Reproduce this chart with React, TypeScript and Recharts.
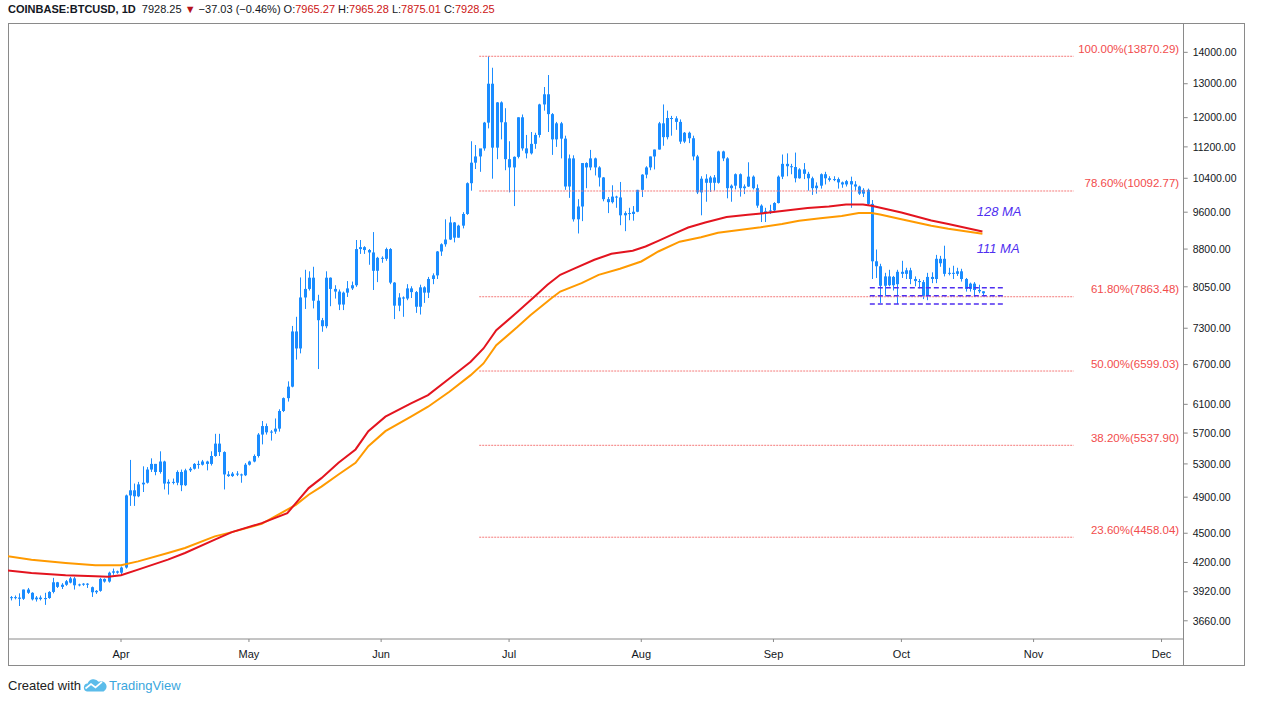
import React from 'react';
import { ComposedChart, Bar, Line, XAxis, YAxis, ReferenceLine, ReferenceDot } from 'recharts';

const FONT = '"Liberation Sans", Arial, sans-serif';
const BLUE = '#1a8cff';
const RED_MA = '#e3141f';
const ORANGE_MA = '#ff9a00';
const FIB_LINE = '#f47a7a';
const FIB_TEXT = '#f24c4c';
const PURPLE = '#4f2ff0';

// Day index: 0 = 1 Apr 2019. First candle = 6 Mar 2019.
const START_DAY = -26;

// [open, high, low, close]
const mar = [
  [3863, 3880, 3840, 3870], [3870, 3885, 3850, 3866], [3866, 3905, 3790, 3855], [3855, 3940, 3845, 3940],
  [3940, 3955, 3900, 3910], [3910, 3915, 3840, 3850], [3850, 3880, 3830, 3866], [3866, 3885, 3840, 3852],
  [3852, 3910, 3800, 3862], [3862, 3925, 3855, 3918], [3918, 4050, 3905, 4008], [4008, 4012, 3955, 3965],
  [3965, 4000, 3945, 3985], [3985, 4030, 3975, 4018], [4005, 4060, 3998, 4045], [4045, 4060, 3940, 3980],
  [3980, 3995, 3970, 3988], [3988, 4000, 3975, 3995], [3995, 4000, 3955, 3985], [3962, 3968, 3872, 3915],
  [3915, 3935, 3900, 3928], [3928, 4050, 3920, 4040], [4040, 4045, 4005, 4015], [4015, 4110, 4005, 4100],
  [4100, 4140, 4080, 4113], [4113, 4120, 4090, 4100],
];
const apr = [
  [4100, 4160, 4085, 4150], [4150, 4930, 4140, 4920], [4920, 5350, 4800, 4980], [4980, 5060, 4800, 4910],
  [4910, 5080, 4900, 5050], [5050, 5270, 4960, 5070], [5070, 5260, 5060, 5230], [5230, 5370, 5200, 5300],
  [5300, 5300, 5160, 5200], [5200, 5460, 5180, 5330], [5330, 5340, 4990, 5060], [5060, 5110, 4930, 5080],
  [5080, 5120, 5050, 5070], [5070, 5220, 5040, 5200], [5200, 5230, 4970, 5040], [5040, 5240, 5030, 5220],
  [5220, 5260, 5200, 5240], [5240, 5310, 5230, 5300], [5300, 5340, 5240, 5290], [5290, 5350, 5280, 5330],
  [5330, 5340, 5220, 5300], [5300, 5460, 5280, 5400], [5400, 5690, 5390, 5560], [5560, 5690, 5400, 5450],
  [5450, 5460, 4990, 5170], [5170, 5210, 5140, 5150], [5150, 5200, 5140, 5180], [5180, 5210, 5150, 5170],
  [5170, 5180, 5070, 5160], [5160, 5310, 5150, 5290],
];
const may = [
  [5290, 5340, 5280, 5330], [5330, 5420, 5320, 5400], [5400, 5700, 5380, 5680], [5680, 5865, 5550, 5795],
  [5795, 5830, 5680, 5710], [5710, 5740, 5600, 5720], [5720, 5900, 5690, 5760], [5760, 6030, 5720, 6005],
  [6005, 6200, 5990, 6190], [6190, 6440, 6140, 6360], [6360, 7340, 6350, 7245], [7245, 7500, 6780, 6960],
  [6960, 8230, 6880, 7850], [7850, 8380, 7640, 8010], [8010, 8350, 7980, 8225], [8225, 8440, 7650, 7790],
  [7790, 7900, 6630, 7440], [7440, 7480, 7240, 7335], [7335, 8350, 7300, 8225], [8225, 8230, 7690, 8010],
  [8010, 8080, 7830, 7960], [7960, 8000, 7620, 7720], [7720, 7960, 7620, 7940], [7940, 8160, 7860, 8020],
  [8020, 8150, 7990, 8080], [8080, 8990, 8050, 8800], [8800, 8990, 8700, 8840], [8840, 8860, 8700, 8780],
  [8780, 8800, 8480, 8730], [8730, 9160, 7990, 8360], [8360, 8640, 8140, 8620],
];
const jun = [
  [8620, 8650, 8520, 8600], [8600, 8830, 8560, 8800], [8800, 8820, 8100, 8130], [8130, 8140, 7460, 7700],
  [7700, 7930, 7600, 7850], [7850, 7870, 7500, 7830], [7830, 8100, 7800, 8020], [8020, 8060, 7840, 7950],
  [7950, 7970, 7570, 7680], [7680, 8090, 7540, 8040], [8040, 8060, 7750, 7940], [7940, 8240, 7840, 8200],
  [8200, 8310, 8100, 8270], [8270, 8760, 8200, 8750], [8750, 8920, 8660, 8900], [8900, 9440, 8850, 9000],
  [9000, 9500, 8990, 9370], [9370, 9380, 8940, 9040], [9040, 9320, 9040, 9300], [9300, 9600, 9240, 9560],
  [9560, 10300, 9540, 10280], [10280, 11350, 10100, 10790], [10790, 11250, 10630, 10950], [10950, 11100, 10560, 11160],
  [11160, 11880, 11100, 11860], [11860, 13870, 11700, 13000], [13000, 13500, 10390, 11180], [11180, 12450, 10880, 12440],
  [12440, 12470, 11400, 11870], [11870, 12270, 10600, 10880],
];
const jul = [
  [10880, 11350, 10060, 10670], [10670, 10950, 9740, 10940], [10940, 12010, 10900, 12010], [12010, 12090, 11100, 11160],
  [11160, 11520, 10900, 11030], [11030, 11600, 11000, 11280], [11280, 11580, 11150, 11520], [11520, 12400, 11450, 12380],
  [12380, 12900, 12200, 12680], [12680, 13270, 11600, 12100], [12100, 12130, 10990, 11400], [11400, 11880, 11200, 11840],
  [11840, 11880, 10900, 11420], [11420, 11500, 10120, 10200], [10200, 11000, 9930, 10900], [10900, 10980, 9390, 9440],
  [9440, 9900, 9130, 9730], [9730, 10780, 9400, 10780], [10780, 10800, 10160, 10670], [10670, 11120, 10600, 10900],
  [10900, 10920, 10470, 10670], [10670, 10700, 10200, 10420], [10420, 10430, 9850, 9900], [9900, 9950, 9580, 9830],
  [9830, 10230, 9800, 9960], [9960, 9980, 9700, 9940], [9940, 10310, 9310, 9530], [9530, 9620, 9180, 9580],
  [9580, 9700, 9420, 9560], [9560, 9740, 9410, 9610], [9610, 10120, 9600, 10120],
];
const aug = [
  [10120, 10500, 9950, 10490], [10490, 10700, 10400, 10670], [10670, 10950, 10600, 10950], [10950, 11130, 10620, 11130],
  [11130, 11880, 11130, 11840], [11840, 12380, 11230, 11460], [11460, 12200, 11400, 11990], [11990, 12050, 11500, 11980],
  [11980, 12040, 11660, 11880], [11880, 11950, 11280, 11340], [11340, 11600, 11300, 11580], [11580, 11610, 11300, 11430],
  [11430, 11500, 10850, 10950], [10950, 10990, 10020, 10060], [10060, 10450, 9530, 10390], [10390, 10500, 9840, 10290],
  [10290, 10460, 10070, 10420], [10420, 10480, 10100, 10290], [10290, 11100, 10270, 11080], [11080, 11100, 10830, 10900],
  [10900, 10930, 9920, 10160], [10160, 10250, 9840, 10220], [10220, 10520, 10130, 10500], [10500, 10520, 9960, 10160],
  [10160, 10250, 10020, 10200], [10200, 10800, 10190, 10440], [10440, 10470, 10130, 10160], [10160, 10250, 9700, 9750],
  [9750, 9780, 9380, 9580], [9580, 9700, 9380, 9620], [9620, 9770, 9560, 9640],
];
const sep = [
  [9640, 9830, 9600, 9810], [9810, 10470, 9800, 10440], [10440, 11000, 10380, 10760], [10760, 11030, 10450, 10700],
  [10700, 10760, 10500, 10680], [10680, 11050, 10300, 10400], [10400, 10650, 10390, 10620], [10620, 10780, 10380, 10510],
  [10510, 10560, 10100, 10400], [10400, 10440, 10000, 10160], [10160, 10300, 10030, 10220], [10220, 10520, 10150, 10500],
  [10500, 10560, 10250, 10400], [10400, 10450, 10320, 10360], [10360, 10450, 10330, 10380], [10380, 10420, 10150, 10300],
  [10300, 10320, 10170, 10250], [10250, 10360, 10200, 10330], [10330, 10440, 9700, 10250], [10250, 10330, 10100, 10200],
  [10200, 10220, 10000, 10030], [10030, 10160, 9950, 10120], [10120, 10150, 9750, 9790], [9790, 9880, 8200, 8550],
  [8550, 8790, 8220, 8450], [8450, 8500, 7750, 8070], [8070, 8320, 7880, 8250], [8250, 8380, 8060, 8080],
  [8080, 8260, 7980, 8240], [8100, 8380, 7730, 8340],
];
const oct = [
  [8340, 8560, 8220, 8300], [8300, 8420, 8200, 8370], [8370, 8420, 8100, 8200], [8200, 8250, 8060, 8160],
  [8160, 8200, 8020, 8140], [8140, 8180, 7820, 7880], [7880, 8320, 7800, 8240], [8240, 8330, 8120, 8200],
  [8200, 8680, 8120, 8600], [8600, 8660, 8440, 8510], [8600, 8870, 8250, 8300], [8300, 8420, 8270, 8320],
  [8320, 8460, 8200, 8300], [8300, 8420, 8260, 8350], [8350, 8400, 8150, 8200], [8200, 8220, 7960, 8010],
  [8010, 8130, 7960, 8110], [8110, 8140, 7860, 7990], [7990, 8090, 7930, 7965], [7965.27, 7965.28, 7875.01, 7928.25],
];

// Moving averages (day index, value)
const ma128Days = [-27, -21, -13, -6, -3, 0, 4, 11, 15, 22, 26, 33, 39, 41, 44, 47, 51, 55, 58, 62, 68, 72, 77, 82, 85, 88, 93, 97, 100, 103, 106, 111, 115, 120, 123, 126, 130, 133, 137, 142, 147, 151, 156, 161, 166, 170, 174, 176, 183, 190, 194, 202];
const ma128Vals = [4124, 4098, 4075, 4066, 4060, 4075, 4130, 4228, 4295, 4432, 4512, 4609, 4719, 4832, 5006, 5125, 5314, 5484, 5726, 5925, 6114, 6234, 6484, 6745, 6960, 7267, 7589, 7868, 8088, 8281, 8394, 8580, 8703, 8765, 8854, 8973, 9138, 9259, 9369, 9490, 9541, 9580, 9638, 9694, 9731, 9777, 9777, 9747, 9593, 9413, 9334, 9173];
const ma111Days = [-27, -21, -13, -6, 0, 4, 11, 15, 22, 26, 33, 41, 44, 47, 51, 55, 58, 62, 68, 72, 77, 82, 85, 88, 93, 96, 101, 103, 108, 112, 117, 122, 126, 131, 136, 140, 145, 150, 155, 159, 164, 169, 173, 176, 178, 183, 190, 194, 202];
const ma111Vals = [4266, 4228, 4195, 4172, 4172, 4211, 4295, 4346, 4467, 4512, 4601, 4812, 4928, 5024, 5169, 5314, 5527, 5726, 5925, 6066, 6284, 6535, 6718, 7014, 7325, 7528, 7839, 7961, 8120, 8281, 8400, 8546, 8750, 8955, 9048, 9147, 9206, 9265, 9338, 9410, 9464, 9515, 9580, 9580, 9549, 9441, 9297, 9232, 9124];

const fibNames = ['100.00%', '78.60%', '61.80%', '50.00%', '38.20%', '23.60%'];
const fibValues = [13870.29, 10092.77, 7863.48, 6599.03, 5537.9, 4458.04];
const fibStartDay = 84;
const fibEndDay = 223.4;

const boxLevels = [8031, 7880, 7732];
const boxStartDay = 175.6;
const boxEndDay = 206.8;

const monthNames = ['Apr', 'May', 'Jun', 'Jul', 'Aug', 'Sep', 'Oct', 'Nov', 'Dec'];
const monthTicks = [0, 30, 61, 91, 122, 153, 183, 214, 244];
const priceTicks = [3660, 3920, 4200, 4500, 4900, 5300, 5700, 6100, 6700, 7300, 8050, 8800, 9600, 10400, 11200, 12000, 13000, 14000];

const maLabels = [
  { text: '128 MA', day: 200.9, price: 9614 },
  { text: '111 MA', day: 200.9, price: 8804 },
];

const candles = [...mar, ...apr, ...may, ...jun, ...jul, ...aug, ...sep, ...oct];

function buildRows() {
  const map = new Map<number, any>();
  candles.forEach((c, i) => {
    const d = START_DAY + i;
    map.set(d, { d, o: c[0], h: c[1], l: c[2], c: c[3], range: [c[2], c[1]] });
  });
  ma128Days.forEach((d, i) => {
    const r = map.get(d) || { d };
    r.ma128 = ma128Vals[i];
    map.set(d, r);
  });
  ma111Days.forEach((d, i) => {
    const r = map.get(d) || { d };
    r.ma111 = ma111Vals[i];
    map.set(d, r);
  });
  return Array.from(map.values()).sort((a, b) => a.d - b.d);
}
const rows = buildRows();

const Candle = (props: any) => {
  const { x, y, width, height, payload } = props;
  if (!payload || payload.o == null || !isFinite(x) || !isFinite(y) || !isFinite(height)) return <g />;
  const { o, h, l, c } = payload;
  const top = Math.min(y, y + height);
  const hgt = Math.abs(height);
  const cx = Math.round(x + width / 2);
  const lh = Math.log(h);
  const ll = Math.log(l);
  const span = lh - ll;
  const py = (v: number) => (span > 0 ? top + (hgt * (lh - Math.log(v))) / span : top);
  const bTop = py(Math.max(o, c));
  const bBot = py(Math.min(o, c));
  return (
    <g>
      <rect x={cx} y={top} width={1} height={Math.max(1, hgt)} fill={BLUE} />
      <rect x={cx - 1} y={bTop} width={3} height={Math.max(1, bBot - bTop)} fill={BLUE} />
    </g>
  );
};

const fibLabel = (text: string) => (props: any) => {
  const vb = props.viewBox || {};
  return (
    <text x={vb.x + vb.width - 4.5} y={vb.y - 3.5} textAnchor="end" fontSize={11.5} fontFamily={FONT} fill={FIB_TEXT}>
      {text}
    </text>
  );
};

const maLabel = (text: string) => (props: any) => {
  const vb = props.viewBox || {};
  return (
    <text
      x={vb.x}
      y={vb.y + (vb.height || 0) / 2}
      dominantBaseline="central"
      fontSize={13}
      fontStyle="italic"
      fontFamily={FONT}
      fill={PURPLE}
    >
      {text}
    </text>
  );
};

const TVLogo = () => (
  <svg width="25" height="14" viewBox="0 0 25 14" style={{ verticalAlign: '-2px', margin: '0 1px 0 2px' }}>
    <path d="M4 13.5 A4 4 0 0 1 4.6 5.6 A6.2 6.2 0 0 1 15.6 3.8 A4.8 4.8 0 0 1 20.6 13.5 Z" fill="#5bbcea" />
    <path d="M2.5 10.5 L8 6 L12.5 9.5 L19 3.8" stroke="#ffffff" strokeWidth="1.7" fill="none" />
  </svg>
);

export default function App() {
  const red = '#cc1414';
  return (
    <div style={{ position: 'absolute', left: 0, top: 0, width: 1261, height: 701, background: '#fff', fontFamily: FONT }}>
      <div style={{ position: 'absolute', left: 8, top: 2, fontSize: 11, lineHeight: '15px', color: '#131722', whiteSpace: 'nowrap' }}>
        <b>COINBASE:BTCUSD, 1D</b>&nbsp; 7928.25 <span style={{ color: '#b5121b' }}>▼</span> −37.03 (−0.46%) O:
        <span style={{ color: red }}>7965.27</span> H:<span style={{ color: red }}>7965.28</span> L:
        <span style={{ color: red }}>7875.01</span> C:<span style={{ color: red }}>7928.25</span>
      </div>

      <div
        style={{
          position: 'absolute',
          left: 8,
          top: 23,
          width: 1237,
          height: 643,
          border: '1px solid #8a8a8a',
          boxSizing: 'border-box',
        }}
      />
      <div style={{ position: 'absolute', left: 1183, top: 23, width: 1, height: 643, background: '#8a8a8a' }} />

      <div style={{ position: 'absolute', left: 8, top: 23 }}>
        <ComposedChart width={1237} height={643} data={rows} margin={{ top: 1, right: 0, bottom: 0, left: 0 }}>
          <XAxis
            dataKey="d"
            type="number"
            domain={[-26.5, 249.2]}
            allowDataOverflow
            ticks={monthTicks}
            interval={0}
            tickFormatter={(v: number) => monthNames[monthTicks.indexOf(v)] || ''}
            height={27}
            tickSize={3}
            tickMargin={8}
            axisLine={{ stroke: '#8a8a8a' }}
            tickLine={{ stroke: '#8a8a8a' }}
            tick={{ fill: '#131722', fontSize: 11, fontFamily: FONT }}
          />
          <YAxis
            orientation="right"
            type="number"
            scale="log"
            domain={[3506, 14968]}
            allowDataOverflow
            ticks={priceTicks}
            interval={0}
            tickFormatter={(v: number) => v.toFixed(2)}
            width={61.3}
            tickSize={4}
            tickMargin={5}
            axisLine={false}
            tickLine={{ stroke: '#8a8a8a' }}
            tick={{ fill: '#131722', fontSize: 10.5, fontFamily: FONT }}
          />

          {fibValues.map((v, i) => (
            <ReferenceLine
              key={'fib' + i}
              segment={[
                { x: fibStartDay, y: v },
                { x: fibEndDay, y: v },
              ]}
              stroke={FIB_LINE}
              strokeWidth={1}
              strokeDasharray="2 1"
            />
          ))}
          {fibValues.map((v, i) => (
            <ReferenceLine
              key={'fibl' + i}
              y={v}
              stroke="none"
              label={fibLabel(`${fibNames[i]}(${v.toFixed(2)})`)}
            />
          ))}

          <Line
            dataKey="ma111"
            stroke={ORANGE_MA}
            strokeWidth={2}
            dot={false}
            activeDot={false}
            connectNulls
            isAnimationActive={false}
          />
          <Line
            dataKey="ma128"
            stroke={RED_MA}
            strokeWidth={2}
            dot={false}
            activeDot={false}
            connectNulls
            isAnimationActive={false}
          />

          <Bar dataKey="range" barSize={3} shape={Candle} isAnimationActive={false} />

          {boxLevels.map((v, i) => (
            <ReferenceLine
              key={'box' + i}
              segment={[
                { x: boxStartDay, y: v },
                { x: boxEndDay, y: v },
              ]}
              stroke={PURPLE}
              strokeWidth={1.5}
              strokeDasharray="5 3"
            />
          ))}

          {maLabels.map((m, i) => (
            <ReferenceDot
              key={'mal' + i}
              x={m.day}
              y={m.price}
              r={1}
              fill="none"
              stroke="none"
              label={maLabel(m.text)}
            />
          ))}
        </ComposedChart>
      </div>

      <div style={{ position: 'absolute', left: 8, top: 678, fontSize: 13, lineHeight: '16px', color: '#222', whiteSpace: 'nowrap' }}>
        Created with
        <TVLogo />
        <span style={{ color: '#3aa6dd' }}>TradingView</span>
      </div>
    </div>
  );
}
